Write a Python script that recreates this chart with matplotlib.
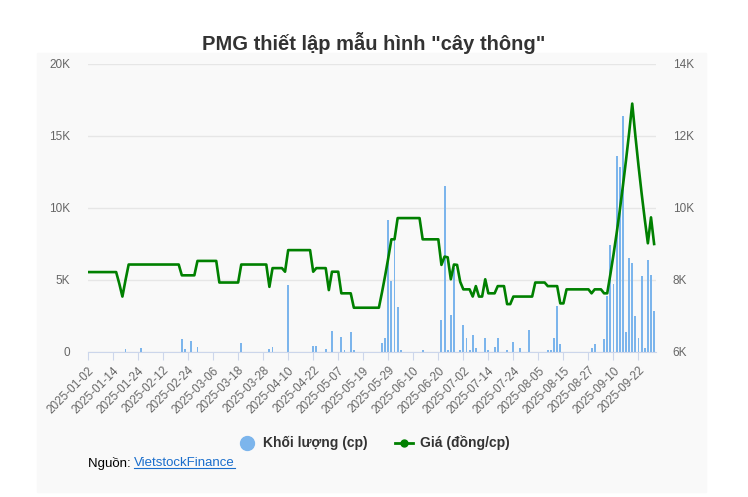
import numpy as np
import pandas as pd
import matplotlib
matplotlib.use('Agg')
import matplotlib.pyplot as plt
from matplotlib.lines import Line2D
from matplotlib.patches import Rectangle

plt.rcParams['font.family'] = ['Liberation Sans', 'DejaVu Sans']

# Trading days (HOSE), holidays removed
holidays = ['2025-01-27', '2025-01-28', '2025-01-29', '2025-01-30', '2025-01-31',
            '2025-04-07', '2025-04-30', '2025-05-01', '2025-05-02',
            '2025-09-01', '2025-09-02']
dates = pd.bdate_range('2025-01-02', '2025-09-29', freq='C', holidays=holidays)

# Price (dong/cp) (flat runs written as repeats)
price = ([8220] * 10 + [7900, 7540, 8000] + [8430] * 17 + [8130] * 5 + [8530] * 7
         + [7930] * 7 + [8430] * 9 + [7810] + [8330] * 4 + [8230] + [8830] * 8
         + [8230] + [8330] * 4 + [7720] + [8230] * 3 + [7630] * 4 + [7230] * 9
         + [7660, 8120, 8610] + [9130] * 2 + [9720] * 8 + [9130] * 6
         + [8420, 8650, 8630, 8020, 8430, 8420, 7950] + [7740] * 3
         + [7540, 7830, 7540, 7540, 8020] + [7630] * 3 + [7830] * 3 + [7330] * 2
         + [7540] * 7 + [7930] * 4 + [7830] * 4 + [7350] * 2 + [7740] * 8
         + [7630] + [7740] * 3 + [7630] * 2
         + [8150, 8700, 9290, 9920, 10600, 11320, 12080, 12900]
         + [12010, 11180, 10410, 9690, 9020, 9740, 9000])

# Volume (cp): trading-day index -> volume; other days are ~0
vol_days = [12, 17, 30, 31, 33, 35, 49, 58, 59, 64, 72, 73, 76, 78, 81, 82, 84, 85,
            94, 95, 96, 97, 98, 99, 100, 107, 113, 114, 115, 116, 117, 119, 120, 121,
            122, 123, 124, 127, 128, 130, 131, 134, 136, 138, 141, 147, 148, 149, 150,
            151, 161, 162, 165, 166, 167, 168, 169, 170, 171, 172, 173, 174, 175, 176,
            177, 178, 179, 180, 181]
vol_values = [200, 300, 920, 200, 790, 330, 620, 200, 350, 4650, 440, 440, 200, 1460,
              1060, 150, 1370, 150, 600, 970, 9200, 4930, 7750, 3150, 150, 150, 2200,
              11530, 150, 2560, 5800, 150, 1870, 1000, 150, 1190, 300, 1000, 150, 350,
              1000, 150, 680, 250, 1530, 150, 150, 1000, 3190, 550, 250, 550, 900, 3880,
              7430, 4750, 13590, 12870, 16390, 1390, 6530, 6160, 2500, 1000, 5280, 300,
              6390, 5370, 2880]

volume = np.zeros(len(dates))
volume[vol_days] = vol_values
x = np.arange(len(dates))

title = 'PMG thiết lập mẫu hình "cây thông"'
vol_label = 'Khối lượng (cp)'
price_label = 'Giá (đồng/cp)'

W, H = 748, 497
fig = plt.figure(figsize=(W / 100, H / 100), dpi=100)
fig.patch.set_facecolor('white')
fig.patches.append(Rectangle((37 / W, 1 - 492 / H), (706 - 37) / W, (492 - 53) / H,
                             transform=fig.transFigure, color='#f9f9f9', zorder=-5))

ax = fig.add_axes([88 / W, 1 - 352 / H, (656 - 88) / W, (352 - 64) / H])
ax.set_facecolor('none')
ax2 = ax.twinx()
ax2.set_facecolor('none')

ax.bar(x, volume, width=0.6, color='#7cb5ec', zorder=2)
ax2.plot(x, price, color='#008000', lw=1.9, zorder=3)

ax.set_xlim(0, 181.6)
ax.set_ylim(0, 20000)
ax2.set_ylim(6000, 14000)

ax.set_yticks([0, 5000, 10000, 15000, 20000])
ax.set_yticklabels(['0', '5K', '10K', '15K', '20K'])
ax2.set_yticks([6000, 8000, 10000, 12000, 14000])
ax2.set_yticklabels(['6K', '8K', '10K', '12K', '14K'])

ticks = x[::8]
ax.set_xticks(ticks)
ax.set_xticklabels([d.strftime('%Y-%m-%d') for d in dates[::8]],
                   rotation=45, ha='right', rotation_mode='anchor')

ax.yaxis.grid(True, color='#e6e6e6', lw=1)
ax.set_axisbelow(True)
for a in (ax, ax2):
    for s in ('top', 'left', 'right', 'bottom'):
        a.spines[s].set_visible(False)
ax.spines['bottom'].set_visible(True)
ax.spines['bottom'].set_color('#ccd6eb')

ax.tick_params(axis='x', length=6, color='#ccd6eb', labelcolor='#666666',
               labelsize=8.5, pad=3)
ax.tick_params(axis='y', length=0, labelcolor='#666666', labelsize=8.5, pad=13)
ax2.tick_params(axis='y', length=0, labelcolor='#666666', labelsize=8.5, pad=12)

fig.text(0.5, 1 - 43 / H, title, ha='center', va='center', fontsize=14.5,
         fontweight='bold', color='#333333')

handles = [Line2D([], [], marker='o', color='#7cb5ec', linestyle='none', markersize=10),
           Line2D([], [], marker='o', color='#008000', lw=2, markersize=5)]
fig.legend(handles, [vol_label, price_label], loc='center', ncol=2,
           bbox_to_anchor=(0.5, 1 - 443 / H), frameon=False,
           prop={'weight': 'bold', 'size': 10}, labelcolor='#333333',
           handlelength=1.3, handletextpad=0.5, columnspacing=2.0)

src = fig.text(88 / W, 1 - 463 / H, 'Nguồn: ', ha='left', va='center',
               fontsize=9.5, color='#000000')
fig.canvas.draw()
bb = src.get_window_extent()
link = fig.text(bb.x1 / W, 1 - 463 / H, 'VietstockFinance', ha='left', va='center',
                fontsize=9.5, color='#1a6ecc')
fig.canvas.draw()
lb = link.get_window_extent()
fig.lines.append(Line2D([lb.x0 / W, lb.x1 / W], [(lb.y0 + 1) / H, (lb.y0 + 1) / H],
                        transform=fig.transFigure, color='#1a6ecc', lw=0.8))

fig.savefig('out.png', dpi=100)
